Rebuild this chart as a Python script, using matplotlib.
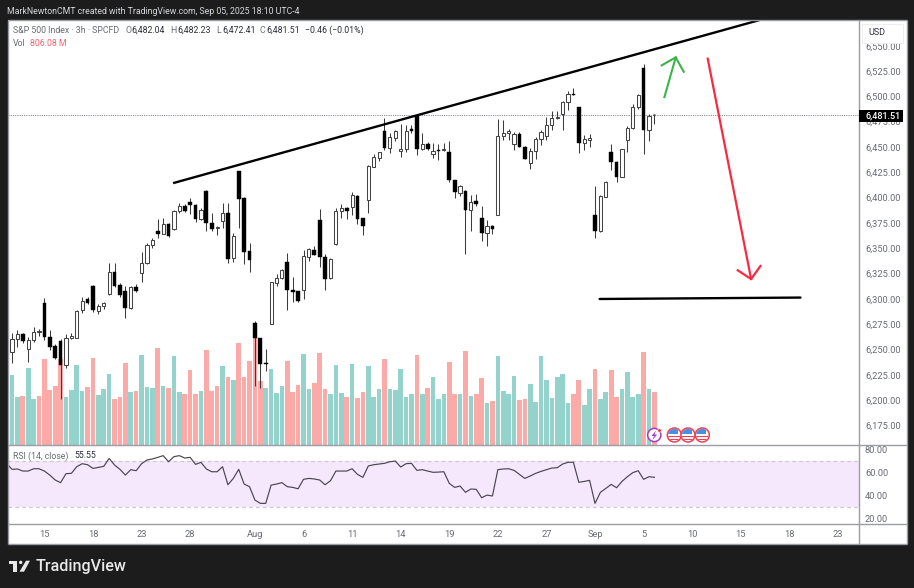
import matplotlib
matplotlib.use("Agg")
import matplotlib.pyplot as plt
from matplotlib.patches import Rectangle, Circle, Polygon

W, H = 914, 588
plt.rcParams['font.family'] = ['Roboto', 'DejaVu Sans']

# bar index -1 is the candle cut off by the left edge
opens = [6282,
 6248,6260,6265,6251,6259,6267,6296,6262,6253,6258,
 6235,6261,6261,6289,6300,6313,6288,6293,6305,6327,
 6314,6308,6291,6312,6326,6335,6353,6367,6364,6374,
 6369,6387,6392,6396,6393,6379,6407,6375,6370,6377,
 6385,6340,6426,6400,6347,6276,6261,6237,6275,6316,
 6321,6336,6309,6308,6309,6341,6348,6378,6341,6321,
 6354,6387,6390,6391,6402,6380,6398,6430,6439,6466,
 6449,6459,6446,6448,6468,6481,6448,6453,6443,6447,
 6447,6445,6417,6405,6407,6388,6397,6380,6365,6372,
 6383,6461,6464,6453,6463,6450,6434,6446,6458,6461,
 6472,6479,6483,6494,6502,6489,6454,6457,6383,6367,
 6401,6445,6435,6420,6457,6469,6489,6528,6467,6482.04]
highs = [6283,
 6266,6269,6266,6262,6272,6270,6301,6269,6255,6260,
 6265,6266,6289,6302,6302,6314,6295,6297,6335,6335,
 6316,6313,6313,6315,6346,6355,6360,6379,6380,6375,
 6388,6395,6394,6400,6394,6390,6408,6385,6372,6395,
 6395,6365,6426,6401,6355,6278,6261,6251,6317,6325,
 6330,6345,6322,6308,6348,6350,6352,6389,6344,6340,
 6390,6394,6391,6406,6403,6380,6432,6443,6445,6479,
 6464,6467,6473,6472,6472,6482,6464,6455,6454,6453,
 6454,6456,6417,6412,6408,6403,6404,6392,6378,6373,
 6478,6477,6468,6465,6465,6451,6449,6460,6467,6480,
 6486,6486,6495,6505,6508,6489,6462,6463,6411,6403,
 6416,6453,6436,6448,6471,6492,6502,6532,6483,6482.23]
lows = [6278,
 6237,6252,6256,6238,6257,6263,6259,6250,6241,6201,
 6232,6260,6261,6286,6295,6287,6285,6290,6304,6312,
 6302,6281,6290,6307,6317,6334,6350,6360,6364,6361,
 6368,6385,6386,6384,6376,6378,6367,6367,6363,6370,
 6335,6336,6370,6334,6327,6214,6212,6229,6275,6313,
 6320,6289,6297,6297,6300,6337,6343,6331,6309,6320,
 6353,6380,6379,6383,6374,6363,6385,6430,6436,6447,
 6444,6456,6440,6445,6464,6442,6447,6447,6439,6437,
 6446,6415,6400,6402,6344,6367,6392,6357,6352,6364,
 6383,6457,6457,6447,6450,6438,6428,6438,6452,6457,
 6467,6478,6467,6487,6501,6444,6447,6450,6360,6366,
 6401,6427,6415,6420,6445,6468,6488,6443,6456,6472.41]
closes = [6279,
 6260,6265,6258,6259,6267,6268,6262,6252,6242,6235,
 6261,6263,6288,6298,6296,6289,6293,6296,6327,6313,
 6304,6291,6312,6308,6335,6353,6358,6364,6374,6362,
 6387,6392,6387,6393,6379,6388,6375,6369,6371,6385,
 6339,6362,6399,6346,6338,6261,6236,6236,6317,6321,
 6329,6309,6307,6298,6342,6349,6343,6341,6320,6339,
 6387,6390,6387,6403,6379,6372,6431,6440,6445,6449,
 6460,6466,6448,6466,6466,6448,6453,6448,6446,6446,
 6448,6417,6406,6411,6388,6396,6394,6365,6372,6369,
 6461,6464,6466,6463,6450,6438,6446,6458,6465,6472,
 6479,6480,6494,6502,6501,6454,6458,6459,6367,6402,
 6415,6435,6420,6448,6469,6489,6501,6467,6481,6481.51]

# volume in millions
volumes = [791,1070,729,744,1178,698,744,1318,837,899,
 1318,729,837,1225,822,884,1333,760,853,1085,
 698,729,1256,806,822,1380,884,868,1488,899,
 868,1364,806,775,1147,775,822,1457,822,899,
 1209,1039,992,1566,1039,1287,1643,977,868,1163,
 791,899,1287,806,915,1395,853,946,1411,853,
 775,1225,791,729,1240,713,806,1209,729,853,
 1318,853,837,1163,729,775,1380,775,868,1039,
 698,775,1271,775,775,1442,744,775,1023,636,
 667,1364,822,775,1054,682,698,930,651,1364,
 992,713,1039,1085,636,775,992,605,853,1163,
 698,806,1147,729,853,1116,729,775,1426,853,806.08]
volume_dirs = ("rggrggrrrr" "rggggrrggg" "rrrgrgggrg" "rggrrrgrrr" "grgrrrrrgg" "ggrrrggrrr"
               "gggrgrrggg" "rgggggrgrg" "ggrrgrgrrg" "rggggrrggg" "gggggrrggr" "ggrrggggrg" "r")

rsi = [67.7,62.5,62.8,61.0,61.0,63.0,63.0,61.0,57.5,53.2,50.9,
 58.7,59.0,64.8,67.4,66.5,63.3,64.2,65.1,72.0,66.2,
 62.5,57.5,62.2,61.3,67.4,70.6,71.5,72.9,74.4,69.1,
 73.5,74.4,72.3,72.9,66.8,68.6,62.8,60.4,60.4,64.8,
 49.1,54.6,62.5,49.7,47.4,35.8,32.9,32.9,48.8,49.7,
 50.9,47.4,46.8,45.6,53.8,54.6,54.1,53.2,49.1,52.6,
 61.0,61.0,61.0,63.0,58.1,55.5,65.4,66.5,67.1,67.7,
 69.1,69.7,64.5,67.4,67.7,61.6,62.2,61.0,59.9,60.1,
 60.4,50.3,46.8,48.0,42.5,45.4,45.1,37.8,40.1,39.3,
 62.2,62.8,63.0,61.6,58.1,54.6,56.7,59.0,60.7,62.2,
 63.6,63.9,67.1,68.6,68.6,51.2,52.0,52.9,32.9,42.5,
 45.9,49.4,46.5,52.0,56.1,59.6,61.3,53.8,56.1,55.55]

price_ticks = [6175 + 25 * i for i in range(16)]
rsi_ticks = [20, 40, 60, 80]
date_pos = [6, 15, 24, 33, 45, 54, 63, 72, 81, 90, 99, 108, 117, 126, 135, 144, 153]
date_labels = ['15', '18', '23', '28', 'Aug', '6', '11', '14', '19', '22', '27', 'Sep', '5', '10', '15', '18', '23']
last_price = 6481.51

# drawn annotations: bar index, price
trend_x, trend_y = [29.84, 138.5], [6414.3, 6575.4]
floor_x, floor_y = [108.86, 146.06], [6299.9, 6301.3]
green_shaft_x, green_shaft_y = [120.86, 122.95], [6499.3, 6538.5]
green_head_x, green_head_y = [120.35, 122.95, 124.43], [6530.6, 6538.5, 6524.3]
red_shaft_x, red_shaft_y = [128.88, 136.92], [6537.2, 6319.6]
red_head_x, red_head_y = [134.44, 136.92, 138.65], [6328.2, 6319.6, 6332.5]


def box(l, t, r, b, **kw):
    return plt.gcf().add_axes([l / W, 1 - b / H, (r - l) / W, (b - t) / H], **kw)


BG = '#1c1c1c'
LINE = '#9a9da5'
GREY = '#686b76'
DARK = '#2a2e39'

fig = plt.figure(figsize=(W / 100, H / 100), dpi=100, facecolor=BG)

# page background
under = fig.add_axes([0, 0, 1, 1], zorder=0)
under.set_xlim(0, W); under.set_ylim(H, 0); under.axis('off')
under.add_patch(Rectangle((8, 20), 899, 524, fc='white', ec='none'))

XL = (-0.741, 156.81)
xs = list(range(-1, 120))

# volume pane shares the price pane's box
vol = box(8, 20, 858.5, 444.5, zorder=1)
vol.set_xlim(*XL); vol.set_ylim(0, 6572); vol.axis('off')
vol.bar(xs, volumes, width=0.86,
        color=['#93d3cb' if d == 'g' else '#fbaaa8' for d in volume_dirs], linewidth=0)

# price pane
ax = box(8, 20, 858.5, 444.5, zorder=2)
ax.patch.set_alpha(0)
ax.set_xlim(*XL); ax.set_ylim(6156.2, 6575.4)
for s in ax.spines.values():
    s.set_visible(False)
ax.yaxis.tick_right()
ax.set_yticks(price_ticks, [f'{v:,.2f}' for v in price_ticks])
ax.tick_params(axis='y', length=0, pad=4.6, labelsize=6.7, labelcolor=GREY)
ax.set_xticks([])
ax.axhline(last_price, color='#8a8d96', lw=0.8, ls=(0, (1, 1)), zorder=1)
ax.vlines(xs, lows, highs, color='#3c3c3c', lw=0.75, zorder=3)
for x, o, c in zip(xs, opens, closes):
    if c >= o:
        ax.bar(x, max(c - o, 0.5), bottom=o, width=0.58, fc='white', ec='#444444', lw=0.75, zorder=4)
    else:
        ax.bar(x, max(o - c, 0.5), bottom=c, width=0.7, fc='black', ec='black', lw=0.3, zorder=4)
ax.plot(trend_x, trend_y, color='black', lw=1.7, solid_capstyle='butt', zorder=5)
ax.plot(floor_x, floor_y, color='black', lw=1.7, solid_capstyle='round', zorder=5)
ax.plot(green_shaft_x, green_shaft_y, color='#3cb44a', lw=1.5, zorder=5)
ax.plot(green_head_x, green_head_y, color='#3cb44a', lw=1.5, zorder=5)
ax.plot(red_shaft_x, red_shaft_y, color='#f72a44', lw=1.6, zorder=5)
ax.plot(red_head_x, red_head_y, color='#f72a44', lw=1.6, zorder=5)

# RSI pane
rs = box(8, 445, 858.5, 524, zorder=2)
rs.set_xlim(*XL); rs.set_ylim(14.96, 83.65)
for s in rs.spines.values():
    s.set_visible(False)
rs.axhspan(30, 70, color='#f5e8fd', lw=0)
rs.axhline(70, color='#cfc8d6', lw=0.9, ls=(0, (3, 2.5)))
rs.axhline(30, color='#cfc8d6', lw=0.9, ls=(0, (3, 2.5)))
rs.plot(xs, rsi, color='#4a4650', lw=0.85)
rs.yaxis.tick_right()
rs.set_yticks(rsi_ticks, [f'{v:.2f}' for v in rsi_ticks])
rs.tick_params(axis='y', length=0, pad=4.6, labelsize=6.7, labelcolor=GREY)
rs.set_xticks(date_pos, date_labels)
rs.tick_params(axis='x', length=0, pad=4.3, labelsize=6.7, labelcolor=GREY)

# chrome, labels and logo
top = fig.add_axes([0, 0, 1, 1], zorder=5)
top.set_xlim(0, W); top.set_ylim(H, 0); top.axis('off'); top.patch.set_alpha(0)
for xy in [((8, 20), (907, 20)), ((8, 544), (907, 544)), ((8, 20), (8, 544)), ((907, 20), (907, 544)),
           ((8, 444.7), (907, 444.7)), ((8, 524), (907, 524)), ((858.7, 20), (858.7, 544))]:
    top.plot([xy[0][0], xy[1][0]], [xy[0][1], xy[1][1]], color=LINE, lw=1.0, solid_capstyle='butt')

def t(x, y, s, color=GREY, size=6.7, **kw):
    top.text(x, y, s, color=color, fontsize=size, va='center', ha=kw.pop('ha', 'left'), **kw)

t(7, 11, 'MarkNewtonCMT created with TradingView.com, Sep 05, 2025 18:10 UTC-4', color='#d6d8de', size=6.3)
t(13, 30.5, 'S&P 500 Index · 3h · SPCFD', size=6.3)
for lx, vx, lab, val in [(125, 131.5, 'O', '6,482.04'), (170.7, 177.5, 'H', '6,482.23'),
                         (216, 222, 'L', '6,472.41'), (260, 266.5, 'C', '6,481.51')]:
    t(lx, 30.5, lab, size=6.3)
    t(vx, 30.5, val, color=DARK, size=6.3)
t(305, 30.5, '−0.46 (−0.01%)', color=DARK, size=6.3)
t(13, 43.5, 'Vol', size=6.3)
t(30.5, 43.5, '806.08 M', color='#f7646e', size=6.3)
t(13, 456, 'RSI (14, close)', size=6.3)
t(74.5, 456, '55.55', color=DARK, size=6.3)

top.add_patch(Rectangle((862, 23.5), 41, 19, fc='white', ec='#eeeeee', lw=0.7, zorder=3))
t(868, 32.7, 'USD', color=DARK, size=6.5, zorder=4)
top.add_patch(Rectangle((859.3, 109.5), 43.5, 12.7, fc='black', ec='none', zorder=3))
t(865, 116, f'{last_price:,.2f}', color='white', size=6.5, zorder=4, fontweight='medium')

# event badges
top.add_patch(Circle((654.3, 435), 6.6, fc='white', ec='#a23cc4', lw=1.1))
top.add_patch(Polygon([(656, 430.5), (651.5, 436), (654, 436), (652.5, 440), (657, 434.5), (654.5, 434.5)],
                      fc='#a23cc4', ec='none'))
top.add_patch(Circle((659.5, 430.5), 1.8, fc='#f23645', ec='white', lw=0.4))
for cx in (674.3, 688, 702.3):
    ring = Circle((cx, 435), 7, fc='white', ec='#f2404f', lw=1.1, zorder=2)
    top.add_patch(ring)
    clip = Circle((cx, 435), 6.2, transform=top.transData)
    for yy in (435.5, 438.5):
        r = Rectangle((cx - 7, yy), 14, 1.4, fc='#f2404f', ec='none', zorder=2)
        top.add_patch(r); r.set_clip_path(clip)
    r = Rectangle((cx - 6.5, 428.5), 10, 5.8, fc='#4a90e2', ec='none', zorder=2)
    top.add_patch(r); r.set_clip_path(clip)

# TradingView mark
LOGO = '#e8e8e8'
top.add_patch(Polygon([(9, 560.7), (16.7, 560.7), (16.7, 571.7), (12.7, 571.7), (12.7, 564), (9, 564)], fc=LOGO, ec='none'))
top.add_patch(Circle((20.7, 562.4), 1.7, fc=LOGO, ec='none'))
top.add_patch(Polygon([(26, 560.7), (30, 560.7), (24, 571.7), (19.5, 571.7)], fc=LOGO, ec='none'))
t(35.5, 566, 'TradingView', color='#e8e8e8', size=11.6, fontweight='medium')

fig.savefig('out.png', dpi=100, facecolor=BG)
